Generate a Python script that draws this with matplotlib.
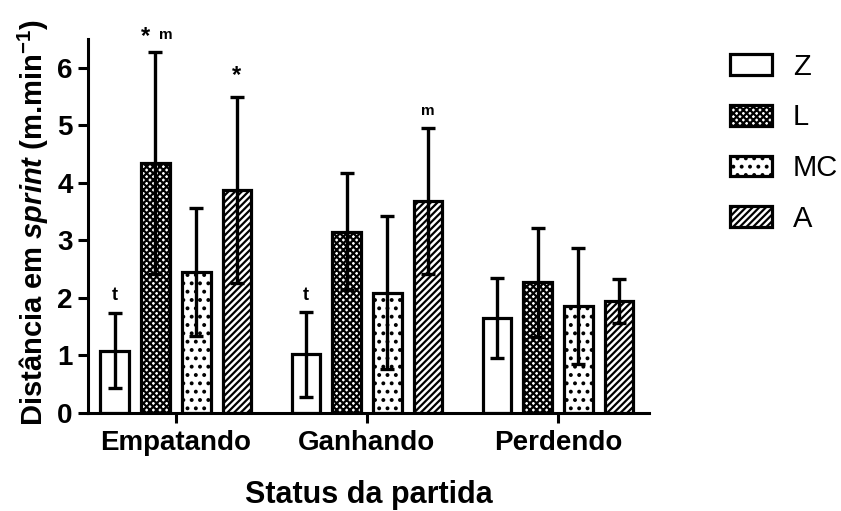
import numpy as np
import matplotlib
matplotlib.use('Agg')
import matplotlib.pyplot as plt

plt.rcParams['font.family'] = ['Liberation Sans', 'DejaVu Sans']
plt.rcParams['mathtext.fontset'] = 'custom'
plt.rcParams['mathtext.rm'] = 'Liberation Sans:bold'
plt.rcParams['mathtext.it'] = 'Liberation Sans:italic:bold'
plt.rcParams['mathtext.bf'] = 'Liberation Sans:bold'
plt.rcParams['hatch.linewidth'] = 1.6

#data
status = ['Empatando', 'Ganhando', 'Perdendo']
series = ['Z', 'L', 'MC', 'A']
z_mean = [1.08, 1.02, 1.65]
z_sd = [0.65, 0.74, 0.70]
l_mean = [4.35, 3.15, 2.27]
l_sd = [1.93, 1.02, 0.95]
mc_mean = [2.45, 2.09, 1.86]
mc_sd = [1.12, 1.33, 1.00]
a_mean = [3.88, 3.69, 1.95]
a_sd = [1.62, 1.27, 0.38]

means = [z_mean, l_mean, mc_mean, a_mean]
sds = [z_sd, l_sd, mc_sd, a_sd]
hatches = ['', 'xxxxx', '..', '/////']

fig = plt.figure(figsize=(8.41, 5.11), dpi=100)
ax = fig.add_axes([0.1046, 0.1918, 0.6671, 0.7319])

x = np.arange(len(status))
step = 0.213
width = 0.15
for i in range(4):
    pos = x + (i - 1.5)*step
    ax.bar(pos, means[i], width, color='white', edgecolor='black',
           linewidth=2.3, hatch=hatches[i], label=series[i], zorder=2)
    ax.errorbar(pos, means[i], yerr=sds[i], fmt='none', ecolor='black',
                elinewidth=2.4, capsize=5, capthick=2.4, zorder=3)

#significance marks
ax.text(x[0] - 1.5*step, 2.05, 't', ha='center', va='center', fontsize=13, fontweight='bold')
ax.text(x[1] - 1.5*step, 2.05, 't', ha='center', va='center', fontsize=13, fontweight='bold')
ax.text(x[0] - 0.5*step - 0.05, 6.55, '*', ha='center', va='center', fontsize=17, fontweight='bold')
ax.text(x[0] - 0.5*step + 0.052, 6.57, 'm', ha='center', va='center', fontsize=11, fontweight='bold')
ax.text(x[0] + 1.5*step, 5.86, '*', ha='center', va='center', fontsize=17, fontweight='bold')
ax.text(x[1] + 1.5*step, 5.25, 'm', ha='center', va='center', fontsize=11, fontweight='bold')

ax.set_xlim(-0.46, 2.477)
ax.set_ylim(0, 6.5)
ax.set_xticks(x)
ax.set_xticklabels(status, fontsize=20, fontweight='bold')
ax.set_yticks(range(7))
ax.set_yticklabels([str(v) for v in range(7)], fontsize=20, fontweight='bold')
ax.tick_params(axis='both', width=2.2, length=7, pad=4)
ax.tick_params(axis='x', pad=5)
for s in ['top', 'right']:
    ax.spines[s].set_visible(False)
for s in ['left', 'bottom']:
    ax.spines[s].set_linewidth(2.2)

ax.set_xlabel('Status da partida', fontsize=22, fontweight='bold', labelpad=17.5)
ax.set_ylabel(r'Distância em $\mathit{sprint}$ (m.min$^{-1}$)', fontsize=21, fontweight='bold')
ax.yaxis.set_label_coords(-0.066, 0.51)

leg = fig.legend(loc='upper left', bbox_to_anchor=(0.868, 0.897), frameon=False,
                 fontsize=21, handlelength=1.45, handleheight=0.72,
                 handletextpad=0.7, labelspacing=0.78, borderpad=0, borderaxespad=0)
for p in leg.get_patches():
    p.set_linewidth(2.3)

fig.savefig('out.png', dpi=100)
